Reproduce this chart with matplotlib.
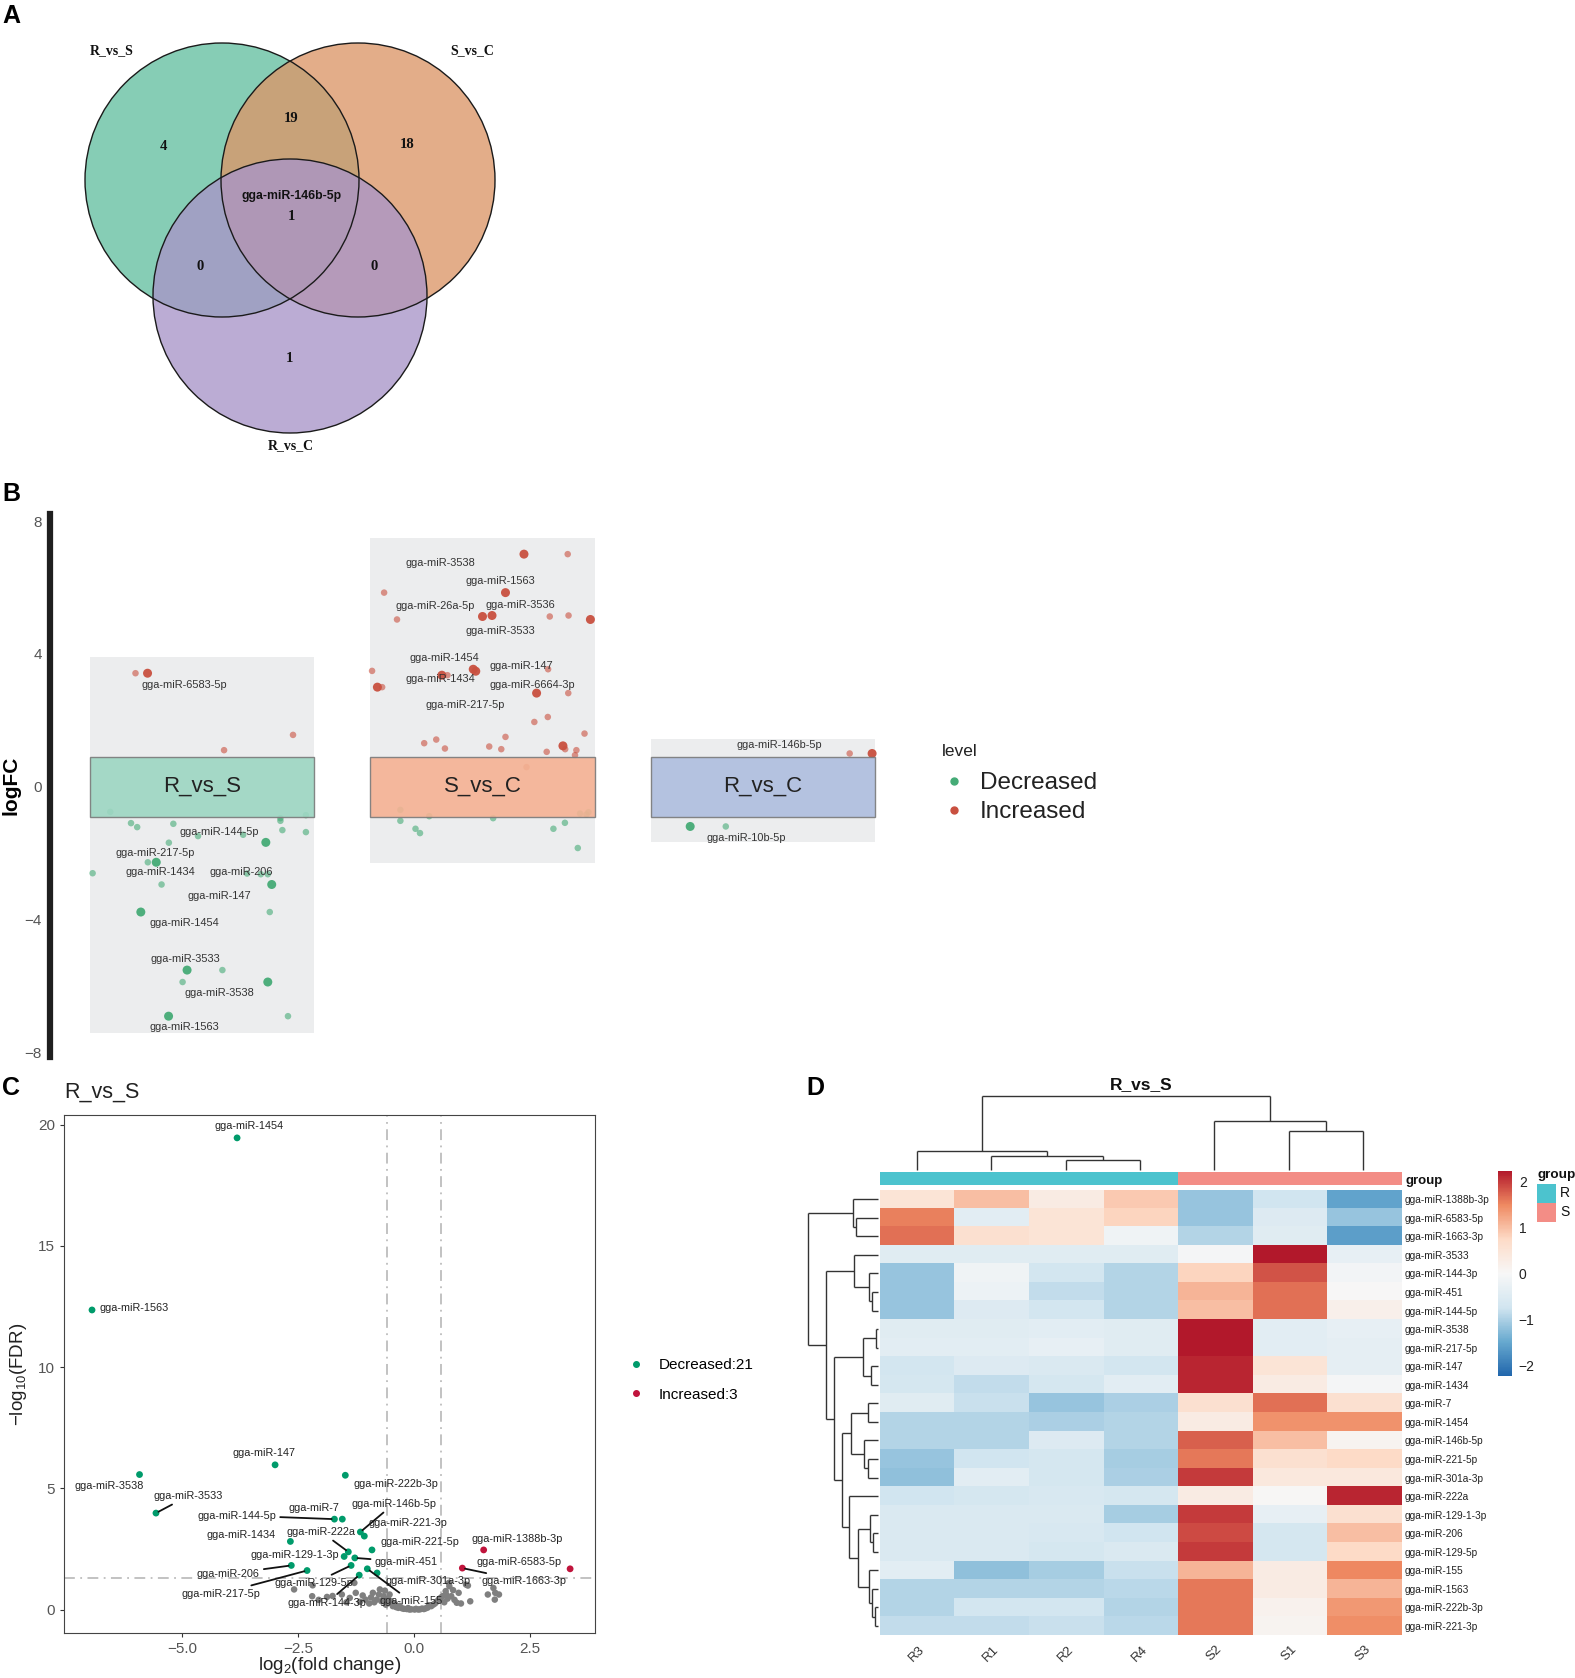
import numpy as np
import matplotlib
matplotlib.use("Agg")
import matplotlib.pyplot as plt
from matplotlib.patches import Circle, Rectangle
from matplotlib.lines import Line2D
from matplotlib.colors import LinearSegmentedColormap, ListedColormap
import matplotlib.cm as cm

plt.rcParams['font.family'] = ['Liberation Sans', 'DejaVu Sans']
plt.rcParams['mathtext.default'] = 'regular'

# ---------------- DATA ----------------
# Panel A (Venn)
venn_sets = ["R_vs_S", "S_vs_C", "R_vs_C"]
venn_counts = {"R": 4, "RS": 19, "S": 18, "RSC": 1, "RC": 0, "SC": 0, "C": 1}
venn_shared_name = "gga-miR-146b-5p"

# Panel B (jitter per comparison): x (jittered category position), logFC, level, big
b_groups = ["R_vs_S", "S_vs_C", "R_vs_C"]
b_x = [0.762, 0.805, 1.078, 1.324,
       0.672, 0.746, 0.768, 0.897, 0.985, 1.146, 1.227, 1.279, 1.279, 1.286, 1.370, 1.370,
       0.881, 0.806, 0.836, 0.609, 0.855, 1.209, 1.234, 1.248, 1.160, 0.781, 1.241,
       0.946, 1.072, 0.930, 1.234, 0.880, 1.306,
       2.148, 2.304, 1.649, 2.082, 1.695, 2.000, 2.034, 2.240, 2.307, 2.385, 1.606,
       1.967, 1.976, 2.234, 1.855, 1.875, 1.625, 1.642, 2.193, 2.306, 2.185, 2.233,
       2.364, 1.792, 1.835, 1.866, 2.024, 2.067, 2.082, 2.229, 2.287, 2.295, 2.335,
       2.330, 2.157,
       1.707, 1.707, 1.761, 1.777, 1.810, 2.038, 2.253, 2.294, 2.340, 2.348, 2.371, 2.378,
       3.310, 3.390, 2.741, 2.868]
b_y = [3.42, 3.42, 1.10, 1.56,
       -0.76, -1.10, -1.22, -1.12, -1.49, -1.45, -1.68, -0.95, -1.03, -1.31, -0.86, -1.37,
       -1.69, -2.28, -2.28, -2.61, -2.95, -2.64, -2.64, -2.95, -2.62, -3.78, -3.78,
       -5.53, -5.53, -5.89, -5.89, -6.92, -6.92,
       7.01, 7.01, 5.85, 5.85, 5.04, 5.13, 5.16, 5.13, 5.16, 5.04, 3.49,
       3.54, 3.48, 3.54, 3.36, 3.36, 3.00, 3.00, 2.82, 2.82, 1.95, 2.10,
       1.60, 1.31, 1.42, 1.15, 1.21, 1.13, 1.50, 1.05, 1.23, 1.13, 1.10,
       0.95, 0.59,
       -0.70, -1.03, -1.27, -1.40, -0.89, -0.95, -1.27, -1.09, -1.85, -0.81, -0.84, -0.77,
       1.00, 1.00, -1.20, -1.20]
b_level = (["Increased"] * 4 + ["Decreased"] * 29 + ["Increased"] * 35
           + ["Decreased"] * 12 + ["Increased"] * 2 + ["Decreased"] * 2)
b_big = [0, 1, 0, 0,
         0, 0, 0, 0, 0, 0, 1, 0, 0, 0, 0, 0,
         0, 0, 1, 0, 0, 0, 0, 1, 0, 1, 0,
         1, 0, 0, 1, 1, 0,
         1, 0, 0, 1, 0, 1, 1, 0, 0, 1, 0,
         1, 1, 0, 1, 0, 1, 0, 1, 0, 0, 0,
         0, 0, 0, 0, 0, 0, 0, 0, 1, 0, 0,
         0, 0,
         0, 0, 0, 0, 0, 0, 0, 0, 0, 0, 0, 0,
         0, 1, 1, 0]
b_lab_text = ["gga-miR-6583-5p", "gga-miR-144-5p", "gga-miR-217-5p", "gga-miR-1434",
              "gga-miR-206", "gga-miR-147", "gga-miR-1454", "gga-miR-3533",
              "gga-miR-3538", "gga-miR-1563",
              "gga-miR-3538", "gga-miR-1563", "gga-miR-26a-5p", "gga-miR-3536",
              "gga-miR-3533", "gga-miR-1454", "gga-miR-147", "gga-miR-1434",
              "gga-miR-6664-3p", "gga-miR-217-5p",
              "gga-miR-146b-5p", "gga-miR-10b-5p"]
b_lab_x = [0.937, 1.062, 0.834, 0.851, 1.139, 1.062, 0.938, 0.940, 1.062, 0.938,
           1.851, 2.063, 1.832, 2.135, 2.063, 1.865, 2.139, 1.851, 2.178, 1.937,
           3.059, 2.940]
b_lab_y = [3.07, -1.38, -2.01, -2.58, -2.58, -3.29, -4.11, -5.21, -6.22, -7.24,
           6.75, 6.19, 5.46, 5.47, 4.70, 3.88, 3.65, 3.24, 3.05, 2.45,
           1.25, -1.56]
b_bg_top = [3.9, 7.5, 1.45]
b_bg_bottom = [-7.42, -2.3, -1.68]

# Panel C (volcano R_vs_S)
c_names = ["gga-miR-1454", "gga-miR-1563", "gga-miR-147", "gga-miR-222b-3p", "gga-miR-3538",
           "gga-miR-3533", "gga-miR-144-5p", "gga-miR-7", "gga-miR-146b-5p", "gga-miR-221-3p",
           "gga-miR-1434", "gga-miR-221-5p", "gga-miR-222a", "gga-miR-129-1-3p", "gga-miR-451",
           "gga-miR-206", "gga-miR-217-5p", "gga-miR-129-5p", "gga-miR-155", "gga-miR-301a-3p",
           "gga-miR-144-3p", "gga-miR-1388b-3p", "gga-miR-1663-3p", "gga-miR-6583-5p"]
c_logfc = [-3.81, -6.94, -2.99, -1.475, -5.915, -5.56, -1.71, -1.54, -1.15, -1.065,
           -2.66, -0.90, -1.41, -1.50, -1.27, -2.64, -2.30, -1.35, -1.00, -0.79,
           -1.175, 1.51, 1.05, 3.375]
c_fdr = [19.46, 12.36, 5.97, 5.54, 5.57, 3.98, 3.73, 3.73, 3.20, 3.03,
         2.81, 2.46, 2.38, 2.19, 2.13, 1.82, 1.61, 1.82, 1.68, 1.51,
         1.42, 2.46, 1.71, 1.68]
c_lab_x = [-3.56, -6.77, -3.24, -0.39, -6.58, -4.87, -3.82, -2.16, -0.43, -0.13,
           -3.72, 0.14, -1.99, -2.56, -0.16, -4.00, -4.16, -2.15, -0.06, 0.30,
           -1.87, 2.23, 2.39, 2.27]
c_lab_y = [19.93, 12.43, 6.44, 5.19, 5.09, 4.68, 3.88, 4.17, 4.36, 3.58,
           3.07, 2.78, 3.20, 2.24, 1.97, 1.47, 0.66, 1.09, 0.34, 1.17,
           0.28, 2.89, 1.17, 1.97]
c_lab_line = [0, 0, 0, 0, 0, 1, 1, 0, 1, 0,
              0, 0, 1, 0, 1, 1, 1, 1, 1, 0,
              1, 0, 1, 0]
c_gray_x = [-2.58, -2.18, -2.19, -1.87, -1.75, -1.55, -1.28, -1.25, -1.16, -1.04, -0.96, -0.88,
            -0.80, -0.73, -0.65, -0.57, -0.49, -0.45, -0.33, -0.21, -0.09, 0.02, 0.14, 0.26,
            0.38, 0.46, 0.54, 0.62, 0.69, 0.77, 0.81, 0.93, 0.97, 1.17, 1.22, 1.60, 1.76,
            1.84, 1.72, 1.75, 0.76, 1.13, -0.55, -0.60, -0.40, -0.38, -0.30, -0.25, -0.15,
            -0.12, -0.05, 0.05, 0.10, 0.18, 0.22, 0.30, 0.33, 0.42, 0.50, 0.58, 0.66, 0.70,
            0.73, -0.70, -0.75, -0.85, -0.92, -1.10, -1.38, -1.45, -2.05, -0.52, -0.62, 0.85,
            1.02, 0.88]
c_gray_y = [0.83, 1.00, 0.55, 0.52, 0.56, 0.62, 1.10, 0.69, 0.32, 0.41, 0.25, 0.69,
            0.41, 0.83, 0.55, 0.28, 0.34, 0.14, 0.07, 0.03, 0.00, 0.00, 0.01, 0.05,
            0.14, 0.25, 0.41, 0.55, 0.76, 0.96, 0.55, 0.28, 0.69, 0.99, 0.34, 0.62, 0.69,
            0.62, 0.89, 0.41, 1.10, 1.03, 0.45, 0.20, 0.22, 0.10, 0.15, 0.05, 0.02,
            0.06, 0.01, 0.03, 0.00, 0.04, 0.02, 0.08, 0.18, 0.20, 0.33, 0.48, 0.30, 0.62,
            0.45, 0.35, 0.62, 0.30, 0.50, 0.58, 0.48, 0.30, 0.40, 0.62, 0.78, 0.80,
            0.25, 0.40]
c_counts = {"Decreased": 21, "Increased": 3}
c_xticks = [-5.0, -2.5, 0.0, 2.5]
c_yticks = [0, 5, 10, 15, 20]

# Panel D (heatmap R_vs_S)
d_rows = ["gga-miR-1388b-3p", "gga-miR-6583-5p", "gga-miR-1663-3p", "gga-miR-3533",
          "gga-miR-144-3p", "gga-miR-451", "gga-miR-144-5p", "gga-miR-3538", "gga-miR-217-5p",
          "gga-miR-147", "gga-miR-1434", "gga-miR-7", "gga-miR-1454", "gga-miR-146b-5p",
          "gga-miR-221-5p", "gga-miR-301a-3p", "gga-miR-222a", "gga-miR-129-1-3p",
          "gga-miR-206", "gga-miR-129-5p", "gga-miR-155", "gga-miR-1563", "gga-miR-222b-3p",
          "gga-miR-221-3p"]
d_cols = ["R3", "R1", "R2", "R4", "S2", "S1", "S3"]
d_group = ["R", "R", "R", "R", "S", "S", "S"]
d_values = [
    [0.5, 1.0, 0.3, 0.9, -1.15, -0.75, -1.55],
    [1.55, -0.4, 0.5, 0.8, -1.15, -0.5, -1.15],
    [1.65, 0.6, 0.5, -0.15, -0.95, -0.45, -1.6],
    [-0.45, -0.45, -0.45, -0.45, -0.05, 2.25, -0.3],
    [-1.15, -0.15, -0.7, -0.95, 0.8, 1.85, -0.1],
    [-1.15, -0.2, -0.85, -0.95, 1.1, 1.65, 0.0],
    [-1.15, -0.5, -0.7, -0.95, 1.0, 1.65, 0.2],
    [-0.45, -0.45, -0.4, -0.45, 2.3, -0.4, -0.3],
    [-0.4, -0.4, -0.3, -0.45, 2.3, -0.4, -0.35],
    [-0.7, -0.5, -0.55, -0.7, 2.15, 0.5, -0.35],
    [-0.65, -0.85, -0.65, -0.4, 2.15, 0.3, -0.05],
    [-0.45, -0.8, -1.15, -1.0, 0.6, 1.65, 0.6],
    [-0.95, -0.95, -1.0, -0.95, 0.3, 1.4, 1.4],
    [-0.95, -0.95, -0.5, -0.95, 1.75, 1.0, 0.1],
    [-1.15, -0.75, -0.65, -1.05, 1.6, 0.6, 0.75],
    [-1.2, -0.4, -0.65, -1.0, 2.0, 0.4, 0.4],
    [-0.75, -0.65, -0.6, -0.65, 0.3, 0.02, 2.15],
    [-0.55, -0.55, -0.55, -1.05, 2.0, -0.3, 0.6],
    [-0.55, -0.55, -0.6, -0.75, 1.9, -0.65, 1.0],
    [-0.55, -0.55, -0.65, -0.55, 2.0, -0.65, 0.75],
    [-0.4, -1.2, -1.05, -0.8, 1.1, 0.3, 1.5],
    [-0.95, -0.95, -0.95, -0.9, 1.6, 0.3, 1.1],
    [-0.95, -0.7, -0.7, -0.95, 1.6, 0.15, 1.35],
    [-0.85, -0.85, -0.8, -0.9, 1.6, 0.1, 1.45],
]
# dendrograms as nested (left, right, height)
d_row_tree = ((0, (1, 2, 0.316), 0.367),
              ((3, (4, (5, 6, 0.089), 0.127), 0.342),
               (((7, 8, 0.038), (9, 10, 0.101), 0.215),
                (((11, 12, 0.152), (13, (14, 15, 0.152), 0.203), 0.392),
                 (16, ((17, (18, 19, 0.076), 0.114),
                       (20, (21, (22, 23, 0.051), 0.089), 0.139), 0.291), 0.424),
                 0.519),
                0.627),
               0.747),
              1.0)
d_col_tree = ((0, (1, (2, 3, 0.128), 0.183), 0.247), (4, (5, 6, 0.53), 0.662), 1.0)
d_cbar_ticks = [-2, -1, 0, 1, 2]

# ---------------- STYLE ----------------
W_D, H_D = 1472.0, 1568.0   # layout reference grid


def fbox(x0, y0, x1, y1):
    return [x0 / W_D, 1 - y1 / H_D, (x1 - x0) / W_D, (y1 - y0) / H_D]


fig = plt.figure(figsize=(15.75, 16.78), dpi=100)

# overlay (pixel coordinates)
ov = fig.add_axes([0, 0, 1, 1])
ov.set_xlim(0, 1575)
ov.set_ylim(1678, 0)
ov.axis("off")
ov.patch.set_alpha(0)

# ---------- Panel A: Venn ----------
venn_centers = [(222, 180), (358, 180), (290, 296)]
venn_r = 137
venn_cols = ["#64C0A1", "#DC9668", "#A895C8"]
for (cx, cy), col in zip(venn_centers, venn_cols):
    ov.add_patch(Circle((cx, cy), venn_r, facecolor=col, alpha=0.78, edgecolor="none"))
for (cx, cy) in venn_centers:
    ov.add_patch(Circle((cx, cy), venn_r, facecolor="none", edgecolor="#1a1a1a", lw=1.0))
serif = dict(family=["Liberation Serif", "DejaVu Serif"], fontweight="bold", color="#111")
ov.text(112, 51, venn_sets[0], ha="center", va="center", fontsize=10, **serif)
ov.text(472, 51, venn_sets[1], ha="center", va="center", fontsize=10, **serif)
ov.text(291, 446, venn_sets[2], ha="center", va="center", fontsize=10, **serif)
num_pos = {"R": (163, 146), "RS": (291, 119), "S": (407, 144), "RSC": (291, 217),
           "RC": (200, 267), "SC": (374, 267), "C": (289, 359)}
for k, (px, py) in num_pos.items():
    ov.text(px, py, str(venn_counts[k]), ha="center", va="center", fontsize=10.5, **serif)
ov.text(292, 196, venn_shared_name, ha="center", va="center", fontsize=8.8,
        fontweight="bold", color="#111")

# panel letters
for lab, (px, py) in {"A": (11, 16), "B": (11, 494), "C": (11, 1088), "D": (815, 1088)}.items():
    ov.text(px, py, lab, ha="center", va="center", fontsize=18, fontweight="bold", color="#000")

# ---------- Panel B ----------
axB = fig.add_axes(fbox(47, 480, 830, 988))
axB.set_xlim(0.458, 3.447)
axB.set_ylim(-8.16, 8.23)
box_cols = ["#9DD6C2", "#F5B293", "#AEBEDF"]
for i, g in enumerate(b_groups):
    xc = i + 1
    axB.add_patch(Rectangle((xc - 0.4, b_bg_bottom[i]), 0.8, b_bg_top[i] - b_bg_bottom[i],
                            facecolor="#ECEDEE", edgecolor="none", zorder=0))
col_lvl = {"Decreased": "#45AB76", "Increased": "#C9503F"}
bx = np.array(b_x)
by = np.array(b_y)
bb = np.array(b_big)
blv = np.array(b_level)
for lvl in ["Decreased", "Increased"]:
    for big in (0, 1):
        m = (blv == lvl) & (bb == big)
        axB.scatter(bx[m], by[m], s=42 if big else 22, color=col_lvl[lvl],
                    alpha=0.95 if big else 0.6, edgecolors="none", zorder=2)
for i, g in enumerate(b_groups):
    xc = i + 1
    axB.add_patch(Rectangle((xc - 0.4, -0.9), 0.8, 1.8, facecolor=box_cols[i], alpha=0.9,
                            edgecolor="#7a7a7a", lw=1.0, zorder=3))
    axB.text(xc, 0, g, ha="center", va="center", fontsize=16, color="#222", zorder=4)
for t, x, y in zip(b_lab_text, b_lab_x, b_lab_y):
    axB.text(x, y, t, ha="center", va="center", fontsize=7.9, color="#333", zorder=5)
for s in ["top", "right", "bottom"]:
    axB.spines[s].set_visible(False)
axB.spines["left"].set_linewidth(4.5)
axB.spines["left"].set_color("#1f1f1f")
axB.set_xticks([])
axB.set_yticks([-8, -4, 0, 4, 8])
axB.set_yticklabels(["\u22128", "\u22124", "0", "4", "8"])
axB.tick_params(axis="y", length=0, pad=6, labelsize=11, labelcolor="#555")
axB.set_ylabel("logFC", fontsize=15, fontweight="bold")
axB.yaxis.set_label_coords(-0.036, 0.5)
axB.patch.set_alpha(0)

fig.text(880 / W_D, 1 - 702 / H_D, "level", ha="left", va="center", fontsize=12.5, color="#222")
hB = [Line2D([], [], marker="o", ls="", color=col_lvl[k], ms=5) for k in ["Decreased", "Increased"]]
legB = fig.legend(hB, ["Decreased", "Increased"], loc="center left",
                  bbox_to_anchor=(0.598, 1 - 745.5 / H_D), frameon=False, fontsize=17.5,
                  handlelength=1.0, handletextpad=0.55, labelspacing=0.3,
                  borderaxespad=0, borderpad=0)
for t in legB.get_texts():
    t.set_color("#222")

# ---------- Panel C ----------
axC = fig.add_axes(fbox(60, 1042, 556, 1526))
axC.set_xlim(-7.54, 3.91)
axC.set_ylim(-0.97, 20.4)
ls_dd = (0, (6, 3, 1, 3))
for v in (-0.585, 0.585):
    axC.axvline(v, color="#BDBDBD", lw=1.3, ls=ls_dd, zorder=1)
axC.axhline(1.3, color="#BDBDBD", lw=1.3, ls=ls_dd, zorder=1)
axC.scatter(c_gray_x, c_gray_y, s=22, color="#7F7F7F", edgecolors="none", zorder=2)
c_green, c_red = "#009B6B", "#C0143C"
cx = np.array(c_logfc)
cy = np.array(c_fdr)
dec = cx < 0
axC.scatter(cx[dec], cy[dec], s=24, color=c_green, edgecolors="none", zorder=3)
axC.scatter(cx[~dec], cy[~dec], s=24, color=c_red, edgecolors="none", zorder=3)
for n, px, py, lx, ly, ln in zip(c_names, c_logfc, c_fdr, c_lab_x, c_lab_y, c_lab_line):
    ha = "left" if n == "gga-miR-1563" else "center"
    if ln:
        axC.annotate(n, xy=(px, py), xytext=(lx, ly), ha=ha, va="center", fontsize=7.8,
                     color="#222", zorder=4,
                     arrowprops=dict(arrowstyle="-", color="#111", lw=1.3, shrinkA=1, shrinkB=2))
    else:
        axC.text(lx, ly, n, ha=ha, va="center", fontsize=7.8, color="#222", zorder=4)
axC.set_xticks(c_xticks)
axC.set_xticklabels(["\u22125.0", "\u22122.5", "0.0", "2.5"])
axC.set_yticks(c_yticks)
axC.tick_params(length=3, width=0.8, color="#333", labelsize=11, labelcolor="#555")
for s in axC.spines.values():
    s.set_linewidth(0.8)
    s.set_color("#444")
axC.set_xlabel("log$_2$(fold change)", fontsize=13.5, color="#222")
axC.set_ylabel("\u2212log$_{10}$(FDR)", fontsize=13.5, color="#222")
axC.xaxis.set_label_coords(0.5, -0.043)
axC.yaxis.set_label_coords(-0.067, 0.5)
axC.text(0.0, 1.045, "R_vs_S", transform=axC.transAxes, ha="left", va="center",
         fontsize=15.5, color="#222")
hC = [Line2D([], [], marker="o", ls="", color=c, ms=4) for c in (c_green, c_red)]
fig.legend(hC, [f"{k}:{v}" for k, v in c_counts.items()], loc="upper left",
           bbox_to_anchor=(0.4, 0.1905), frameon=False, fontsize=11, handlelength=0.8,
           handletextpad=1.1, labelspacing=1.0, borderaxespad=0, borderpad=0)

# ---------- Panel D ----------
rdbu7 = ["#2166AC", "#67A9CF", "#D1E5F0", "#F7F7F7", "#FDDBC7", "#EF8A62", "#B2182B"]
cmapD = LinearSegmentedColormap.from_list("rdbu7", rdbu7, N=256)
vlim = 2.24
axH = fig.add_axes(fbox(822, 1112, 1309, 1528))
axH.imshow(np.array(d_values), cmap=cmapD, vmin=-vlim, vmax=vlim, aspect="auto",
           interpolation="nearest")
axH.yaxis.tick_right()
axH.set_yticks(range(len(d_rows)))
axH.set_yticklabels(d_rows, fontsize=7.3, color="#222")
axH.set_xticks(range(len(d_cols)))
axH.set_xticklabels(d_cols, rotation=45, ha="center", va="top", fontsize=9.5, color="#333")
axH.tick_params(length=0, pad=3)
axH.tick_params(axis="x", pad=6)
for s in axH.spines.values():
    s.set_visible(False)

grp_colors = {"R": "#4CC3CE", "S": "#F38D86"}
axG = fig.add_axes(fbox(822, 1095, 1309, 1107))
axG.imshow(np.array([[0 if g == "R" else 1 for g in d_group]]),
           cmap=ListedColormap([grp_colors["R"], grp_colors["S"]]), vmin=0, vmax=1,
           aspect="auto", interpolation="nearest")
axG.axis("off")
axG.text(1.01, 0.3, "group", transform=axG.transAxes, ha="left", va="center",
         fontsize=9.5, fontweight="bold", color="#111")


def draw_tree(ax, node, pos, horizontal):
    if isinstance(node, int):
        return pos[node], 0.0
    l, r, h = node
    pl, hl = draw_tree(ax, l, pos, horizontal)
    pr, hr = draw_tree(ax, r, pos, horizontal)
    segs = [((pl, hl), (pl, h)), ((pl, h), (pr, h)), ((pr, h), (pr, hr))]
    for (a0, b0), (a1, b1) in segs:
        if horizontal:   # height along x
            ax.plot([b0, b1], [a0, a1], color="#333", lw=1.0, clip_on=False,
                    solid_capstyle="butt")
        else:
            ax.plot([a0, a1], [b0, b1], color="#333", lw=1.0, clip_on=False,
                    solid_capstyle="butt")
    return (pl + pr) / 2.0, h


axRD = fig.add_axes(fbox(755, 1112, 821, 1528))
draw_tree(axRD, d_row_tree, list(range(len(d_rows))), True)
axRD.set_xlim(1.0, 0.0)
axRD.set_ylim(len(d_rows) - 0.5, -0.5)
axRD.axis("off")

axCD = fig.add_axes(fbox(822, 1024, 1309, 1093))
draw_tree(axCD, d_col_tree, list(range(len(d_cols))), False)
axCD.set_xlim(-0.5, len(d_cols) - 0.5)
axCD.set_ylim(0.0, 1.0)
axCD.axis("off")
ov.text(1141, 1085, "R_vs_S", ha="center", va="center", fontsize=12.5, fontweight="bold",
        color="#111")

axCB = fig.add_axes(fbox(1400, 1094, 1413, 1286))
cb = fig.colorbar(cm.ScalarMappable(norm=plt.Normalize(-vlim, vlim), cmap=cmapD), cax=axCB)
cb.set_ticks(d_cbar_ticks)
cb.outline.set_visible(False)
axCB.tick_params(length=0, labelsize=10, pad=5, labelcolor="#222")

# group legend
ov.text(1537, 1175, "group", ha="left", va="center", fontsize=9.7, fontweight="bold",
        color="#111")
for i, g in enumerate(["R", "S"]):
    ov.add_patch(Rectangle((1537, 1184 + 19 * i), 19, 18.5, facecolor=grp_colors[g],
                           edgecolor="none"))
    ov.text(1560, 1193 + 19 * i, g, ha="left", va="center", fontsize=10, color="#111")

fig.savefig("out.png", dpi=100)
